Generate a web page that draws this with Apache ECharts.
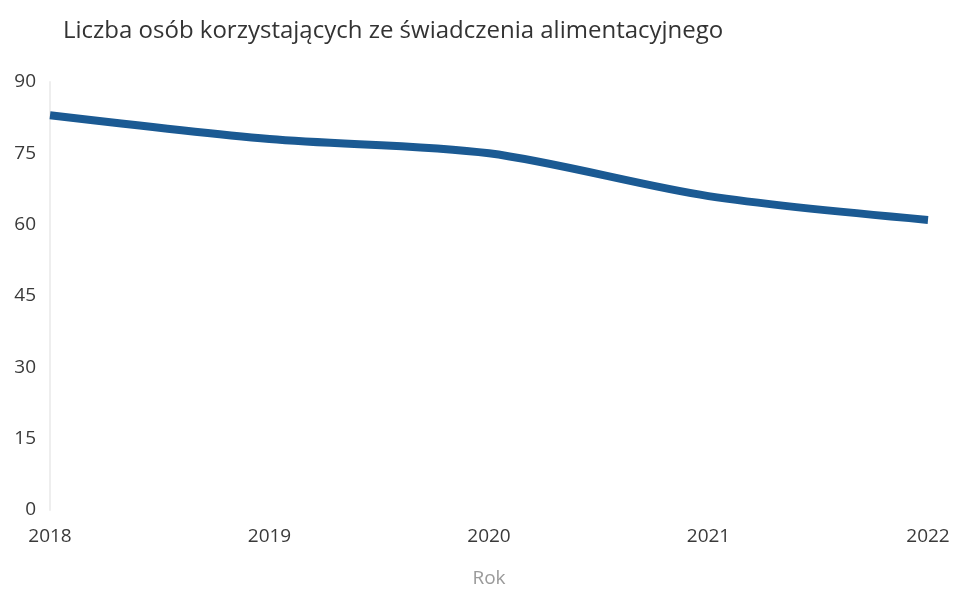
<!DOCTYPE html>
<html>
<head>
<meta charset="utf-8">
<script src="https://cdn.jsdelivr.net/npm/echarts@6/dist/echarts.min.js"></script>
<style>
  html, body { margin: 0; padding: 0; background: #fff; }
  #chart { width: 953px; height: 590px; }
</style>
</head>
<body>
<div id="chart"></div>
<script>
// Years on the horizontal axis
const years = ['2018', '2019', '2020', '2021', '2022'];
// Number of people receiving the maintenance benefit
const recipients = [83, 78, 75, 66, 61];
// Value axis ticks
const yMin = 0;
const yMax = 90;
const yStep = 15;

const chart = echarts.init(document.getElementById('chart'));
chart.setOption({
  backgroundColor: '#ffffff',
  animation: false,
  title: {
    text: 'Liczba osób korzystających ze świadczenia alimentacyjnego',
    left: 58,
    top: 14,
    textStyle: {
      fontFamily: 'Open Sans',
      fontSize: 24,
      fontWeight: 'normal',
      color: '#333333'
    }
  },
  grid: {
    left: 50, right: 25, top: 82, bottom: 80,
    containLabel: false,
    outerBoundsMode: 'none'
  },
  xAxis: {
    type: 'category',
    data: years,
    boundaryGap: false,
    name: 'Rok',
    nameLocation: 'middle',
    nameGap: 59,
    nameTextStyle: { fontFamily: 'Open Sans', fontSize: 19, color: '#9a9a9a' },
    axisLine: { show: false },
    axisTick: { show: false },
    axisLabel: {
      fontFamily: 'Open Sans',
      fontSize: 19,
      color: '#3a3a3a',
      margin: 17
    }
  },
  yAxis: {
    type: 'value',
    min: yMin,
    max: yMax,
    interval: yStep,
    axisLine: { show: true, lineStyle: { color: '#eeeeee', width: 2 } },
    axisTick: { show: false },
    splitLine: { show: false },
    axisLabel: {
      fontFamily: 'Open Sans',
      fontSize: 19,
      color: '#3a3a3a',
      margin: 14
    }
  },
  series: [{
    type: 'line',
    data: recipients,
    smooth: 0.3,
    symbol: 'none',
    lineStyle: { color: '#1b5a93', width: 8 }
  }]
});
</script>
</body>
</html>
